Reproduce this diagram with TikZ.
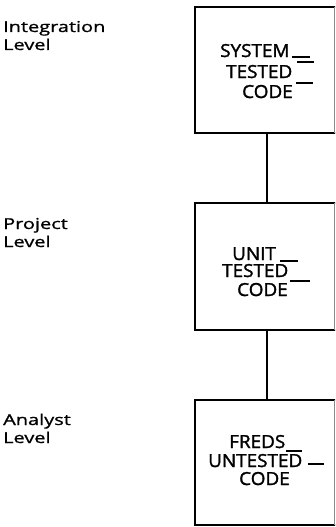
\documentclass[tikz,border=0pt]{standalone}
\usepackage{graphicx}
\usepackage{fontspec}
\setmainfont{Open Sans}
\newfontfamily\boxfont[FakeBold=1.6]{Open Sans}
\newfontfamily\labelfont[FakeBold=0.9]{Open Sans}
\newcommand\boxword[1]{\scalebox{1.05}[1]{#1}}
\newcommand\labelword[1]{\scalebox{1.33}[1]{#1}}
\begin{document}
\begin{tikzpicture}[x=1pt,y=-1pt,
  levelbox/.style={minimum width=141pt,inner sep=0pt,outer sep=0pt},
  boxframe/.style={line width=2.8pt,line join=miter},
  rightside/.style={line width=0.6pt,draw=black!45},
  link/.style={line width=2.8pt},
  boxtext/.style={anchor=base west,inner sep=0pt,font=\boxfont\fontsize{18}{18}\selectfont},
  leveltext/.style={anchor=base west,inner sep=0pt,font=\labelfont\fontsize{15}{17}\selectfont},
  barmark/.style={line width=1.1pt}]
\useasboundingbox (0,0) rectangle (335,527);
\begin{scope}
\clip (0,0) rectangle (335,527);

% three level boxes
\node[levelbox,minimum height=126pt] (top) at (265.5,70) {};
\node[levelbox,minimum height=127pt] (mid) at (265.5,266.5) {};
\node[levelbox,minimum height=125pt] (bot) at (265.5,462.5) {};

\foreach \b in {top,mid,bot}{
  \draw[boxframe] (\b.north east) -- (\b.north west) -- (\b.south west) -- (\b.south east);
  \draw[rightside] ([xshift=-1.5pt]\b.north east) -- ([xshift=-1.5pt]\b.south east);
}

% connectors between the boxes
\draw[link] (top.south -| 267,0) -- (mid.north -| 267,0);
\draw[link] (mid.south -| 267,0) -- (bot.north -| 267,0);
\end{scope}

% box contents, with the stray rule marks beside the words
\node[boxtext] (t1) at (220,57) {\boxword{SYSTEM}};
\node[boxtext] (t2) at (226,78) {\boxword{TESTED}};
\node[boxtext] (t3) at (242,98) {\boxword{CODE}};
\draw[barmark] ([shift={(2,0)}]t1.base east) -- ++(18,0);
\draw[barmark] ([shift={(5,-16)}]t2.base east) -- ++(17,0);
\draw[barmark] ([shift={(3,-15)}]t3.base east) -- ++(17,0);

\node[boxtext] (m1) at (232,260) {\boxword{UNIT}};
\node[boxtext] (m2) at (222,277) {\boxword{TESTED}};
\node[boxtext] (m3) at (237,296) {\boxword{CODE}};
\draw[barmark] ([shift={(-8,-16)}]m2.base east) -- ++(18,0);
\draw[barmark] ([shift={(2,-15)}]m3.base east) -- ++(20,0);

\node[boxtext] (b1) at (229,448) {\boxword{FREDS}};
\node[boxtext] (b2) at (208,467) {\boxword{UNTESTED}};
\node[boxtext] (b3) at (239,485) {\boxword{CODE}};
\draw[barmark] ([shift={(-16,-16)}]b2.base east) -- ++(16,0);
\draw[barmark] ([shift={(6,-3)}]b2.base east) -- ++(16,0);

% level labels
\node[leveltext] (l1) at (3,32) {\labelword{Integration}};
\node[leveltext] (l1b) at (3,50) {\labelword{Level}};
\node[leveltext] (l2) at (3,229) {\labelword{Project}};
\node[leveltext] (l2b) at (3,247) {\labelword{Level}};
\node[leveltext] (l3) at (3,425) {\labelword{Analyst}};
\node[leveltext] (l3b) at (3,443) {\labelword{Level}};
\end{tikzpicture}
\end{document}
